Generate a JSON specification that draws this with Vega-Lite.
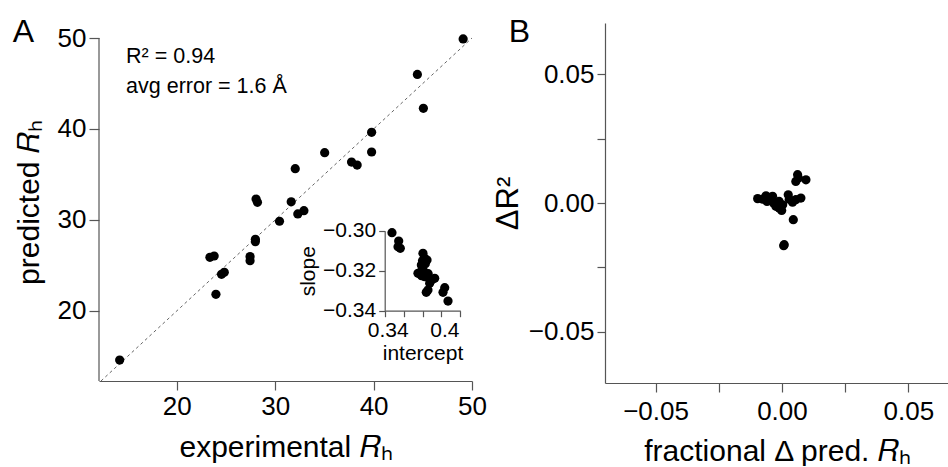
{
  "$schema": "https://vega.github.io/schema/vega-lite/v6.json",
  "padding": {"left": 12, "top": 15, "right": 0, "bottom": 0},
  "spacing": 5,
  "config": {
    "view": {"stroke": null},
    "font": "Liberation Sans",
    "axis": {
      "grid": false, "domainColor": "#555", "tickColor": "#555", "labelColor": "#000", "titleColor": "#000",
      "labelFont": "Liberation Sans", "titleFont": "Liberation Sans", "titleFontWeight": "normal", "labelFlush": false,
      "labelFontSize": 26, "titleFontSize": 30, "tickSize": 9, "domainWidth": 1.2, "tickWidth": 1.2, "labelPadding": 3
    }
  },
  "datasets": {
    "one": [{}],
    "main": [
      {"exp": 49.1, "pred": 49.9}, {"exp": 44.45, "pred": 46.0}, {"exp": 45.06, "pred": 42.27},
      {"exp": 39.8, "pred": 39.64}, {"exp": 39.8, "pred": 37.47}, {"exp": 35.03, "pred": 37.4},
      {"exp": 37.76, "pred": 36.37}, {"exp": 38.33, "pred": 36.04}, {"exp": 32.04, "pred": 35.64},
      {"exp": 28.06, "pred": 32.3}, {"exp": 28.2, "pred": 31.94}, {"exp": 31.63, "pred": 32.0},
      {"exp": 32.92, "pred": 31.02}, {"exp": 32.3, "pred": 30.66}, {"exp": 30.44, "pred": 29.86},
      {"exp": 27.99, "pred": 27.88}, {"exp": 27.99, "pred": 27.62}, {"exp": 27.45, "pred": 25.97},
      {"exp": 27.45, "pred": 25.53}, {"exp": 23.37, "pred": 25.9}, {"exp": 23.8, "pred": 26.04},
      {"exp": 24.83, "pred": 24.25}, {"exp": 24.55, "pred": 24.03}, {"exp": 23.98, "pred": 21.83},
      {"exp": 14.2, "pred": 14.6}
    ],
    "inset": [
      {"intercept": 0.3477, "slope": -0.301}, {"intercept": 0.3548, "slope": -0.3052}, {"intercept": 0.3541, "slope": -0.308},
      {"intercept": 0.3565, "slope": -0.3088}, {"intercept": 0.3805, "slope": -0.3113}, {"intercept": 0.3823, "slope": -0.3138},
      {"intercept": 0.3848, "slope": -0.3147}, {"intercept": 0.3788, "slope": -0.3172}, {"intercept": 0.3798, "slope": -0.3188},
      {"intercept": 0.3752, "slope": -0.3213}, {"intercept": 0.3823, "slope": -0.323}, {"intercept": 0.3869, "slope": -0.3238},
      {"intercept": 0.3929, "slope": -0.3238}, {"intercept": 0.3876, "slope": -0.3263}, {"intercept": 0.384, "slope": -0.3308},
      {"intercept": 0.3858, "slope": -0.3297}, {"intercept": 0.4035, "slope": -0.3285}, {"intercept": 0.4017, "slope": -0.3308},
      {"intercept": 0.407, "slope": -0.3352}, {"intercept": 0.38, "slope": -0.315}, {"intercept": 0.381, "slope": -0.32},
      {"intercept": 0.39, "slope": -0.3245}, {"intercept": 0.383, "slope": -0.3165}, {"intercept": 0.379, "slope": -0.3225},
      {"intercept": 0.386, "slope": -0.3215}
    ],
    "b": [
      {"dx": -0.0096, "dr": 0.0017}, {"dx": -0.0063, "dr": 0.0028}, {"dx": -0.0059, "dr": 0.0006},
      {"dx": -0.0037, "dr": 0.0026}, {"dx": -0.0033, "dr": 0.0}, {"dx": -0.0024, "dr": -0.0013},
      {"dx": -0.0011, "dr": 0.0006}, {"dx": -0.0001, "dr": -0.0029}, {"dx": 0.0003, "dr": -0.0007},
      {"dx": 0.0025, "dr": 0.0032}, {"dx": 0.0042, "dr": 0.0003}, {"dx": 0.0075, "dr": 0.0019},
      {"dx": 0.0055, "dr": 0.0013}, {"dx": 0.0045, "dr": -0.0065}, {"dx": 0.0009, "dr": -0.0162},
      {"dx": 0.0007, "dr": -0.0166}, {"dx": 0.0062, "dr": 0.011}, {"dx": 0.0055, "dr": 0.0084},
      {"dx": 0.0095, "dr": 0.009}, {"dx": 0.0065, "dr": 0.0097}, {"dx": -0.0076, "dr": 0.0015},
      {"dx": -0.0046, "dr": 0.0013}, {"dx": -0.0017, "dr": -0.0003}, {"dx": -0.0011, "dr": -0.0019},
      {"dx": 0.0029, "dr": 0.0015}
    ]
  },
  "hconcat": [
    {
      "width": 373,
      "height": 358,
      "layer": [
        {
          "layer": [
            {
              "data": {"name": "one"},
              "mark": {"type": "rule", "color": "#666", "strokeDash": [3, 3], "strokeWidth": 1},
              "encoding": {
                "x": {"datum": 12.3, "type": "quantitative", "scale": {"domain": [12.1, 50], "nice": false, "zero": false}},
                "y": {"datum": 12.3, "type": "quantitative", "scale": {"domain": [12.3, 51.65], "nice": false, "zero": false}},
                "x2": {"datum": 50},
                "y2": {"datum": 50}
              }
            },
            {
              "data": {"name": "one"},
              "mark": {"type": "rule", "color": "#555", "strokeWidth": 1.2},
              "encoding": {
                "x": {"datum": 12.1, "type": "quantitative"},
                "y": {"datum": 12.3, "type": "quantitative"},
                "y2": {"datum": 50}
              }
            },
            {
              "data": {"name": "main"},
              "mark": {"type": "point", "filled": true, "color": "#000", "opacity": 1, "size": 85},
              "encoding": {
                "x": {"field": "exp", "type": "quantitative",
                  "axis": {"values": [20, 30, 40, 50], "title": "experimental 𝑅ₕ", "titlePadding": 13}},
                "y": {"field": "pred", "type": "quantitative",
                  "axis": {"values": [20, 30, 40, 50], "domain": false, "title": "predicted 𝑅ₕ", "tickSize": 10, "titlePadding": 13}}
              }
            },
            {
              "data": {"name": "one"},
              "mark": {"type": "text", "align": "left", "baseline": "alphabetic", "fontSize": 21.5, "font": "Liberation Sans", "color": "#000"},
              "encoding": {"x": {"datum": 14.85}, "y": {"datum": 47.22}, "text": {"value": "R² = 0.94"}}
            },
            {
              "data": {"name": "one"},
              "mark": {"type": "text", "align": "left", "baseline": "alphabetic", "fontSize": 21.5, "font": "Liberation Sans", "color": "#000"},
              "encoding": {"x": {"datum": 14.85}, "y": {"datum": 43.92}, "text": {"value": "avg error = 1.6 Å"}}
            },
            {
              "data": {"name": "one"},
              "mark": {"type": "text", "align": "left", "baseline": "alphabetic", "fontSize": 32, "font": "Liberation Sans", "color": "#000"},
              "encoding": {"x": {"datum": 3.33}, "y": {"datum": 49.56}, "text": {"value": "A"}}
            }
          ]
        },
        {
          "data": {"name": "inset"},
          "mark": {"type": "point", "filled": true, "color": "#000", "opacity": 1, "size": 85},
          "encoding": {
            "x": {"field": "intercept", "type": "quantitative",
              "scale": {"domain": [0.34, 0.42], "range": [285.7, 361.3], "nice": false, "zero": false},
              "axis": {"orient": "bottom", "offset": -70.3, "values": [0.34, 0.36, 0.38, 0.4, 0.42],
                "labelExpr": "abs(datum.value-0.34)<1e-9 ? '0.34' : (abs(datum.value-0.4)<1e-9 ? '0.4' : '')",
                "labelFontSize": 21, "labelOffset": 3, "title": "intercept", "titleFontSize": 21, "tickSize": 6, "titlePadding": 2}},
            "y": {"field": "slope", "type": "quantitative",
              "scale": {"domain": [-0.34, -0.3], "range": [287.7, 207.7], "nice": false, "zero": false},
              "axis": {"orient": "left", "offset": -285.7, "values": [-0.34, -0.32, -0.3], "format": ".2f",
                "labelFontSize": 21, "title": "slope", "titleFontSize": 21, "tickSize": 6, "titlePadding": 4}}
          }
        }
      ],
      "resolve": {"scale": {"x": "independent", "y": "independent"}}
    },
    {
      "width": 344,
      "height": 360,
      "layer": [
        {
          "data": {"name": "b"},
          "mark": {"type": "point", "filled": true, "color": "#000", "opacity": 1, "size": 85},
          "encoding": {
            "x": {"field": "dx", "type": "quantitative",
              "scale": {"domain": [-0.07, 0.0661], "nice": false, "zero": false},
              "axis": {"values": [-0.05, -0.025, 0, 0.025, 0.05], "format": ".2f",
                "labelExpr": "abs(abs(datum.value)-0.025)<1e-9 ? '' : datum.label",
                "title": "fractional Δ pred. 𝑅ₕ", "titlePadding": 12, "labelPadding": 6}},
            "y": {"field": "dr", "type": "quantitative",
              "scale": {"domain": [-0.07, 0.07], "nice": false, "zero": false},
              "axis": {"values": [-0.05, -0.025, 0, 0.025, 0.05], "format": ".2f",
                "labelExpr": "abs(abs(datum.value)-0.025)<1e-9 ? '' : datum.label",
                "title": "ΔR²", "titleFontSize": 31, "titlePadding": 4, "tickSize": 8}}
          }
        },
        {
          "data": {"name": "one"},
          "mark": {"type": "text", "align": "left", "baseline": "alphabetic", "fontSize": 32, "font": "Liberation Sans", "color": "#000"},
          "encoding": {"x": {"datum": -0.1081}, "y": {"datum": 0.0628}, "text": {"value": "B"}}
        }
      ]
    }
  ]
}
